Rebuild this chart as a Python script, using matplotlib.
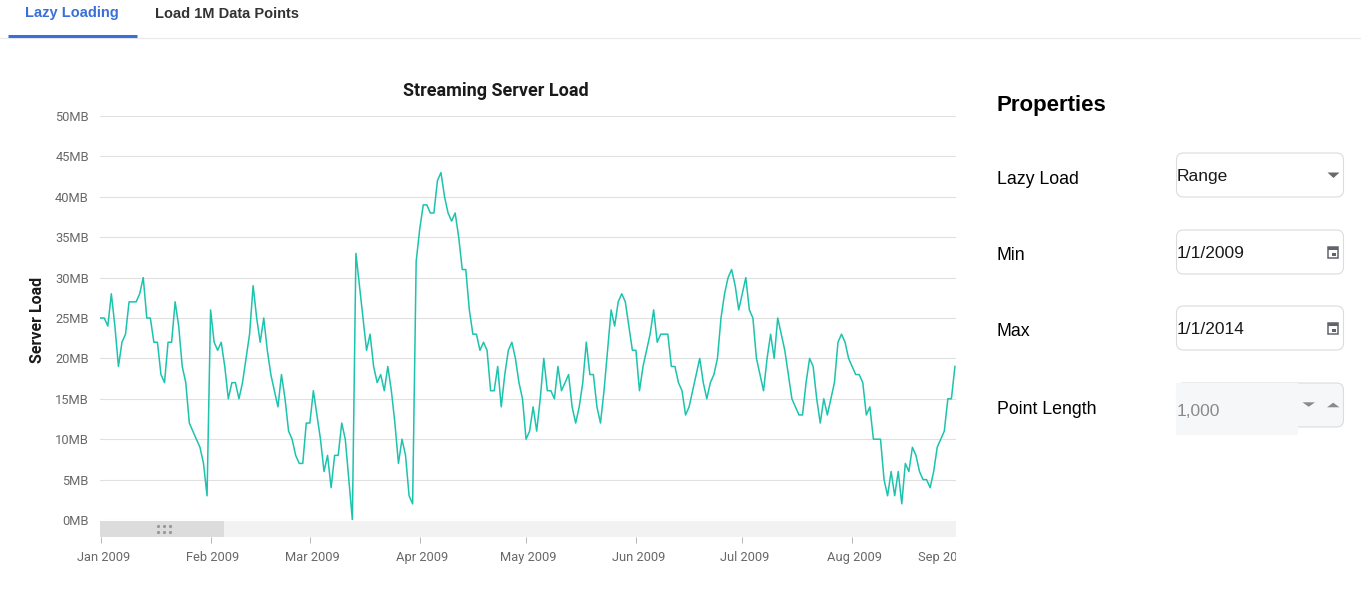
import numpy as np
import pandas as pd
import matplotlib
matplotlib.use('Agg')
import matplotlib.pyplot as plt
import matplotlib.dates as mdates
from matplotlib.patches import Rectangle, FancyBboxPatch, Polygon
from matplotlib.transforms import Bbox, TransformedBbox, ScaledTranslation

plt.rcParams['font.family'] = ['Roboto', 'DejaVu Sans']

# daily server load (MB), starting 1 Jan 2009
start_date = '2009-01-01'
server_load_mb = [
    25, 25, 24, 28, 24, 19, 22, 23, 27, 27,
    27, 28, 30, 25, 25, 22, 22, 18, 17, 22,
    22, 27, 24, 19, 17, 12, 11, 10, 9, 7,
    3, 26, 22, 21, 22, 19, 15, 17, 17, 15,
    17, 20, 23, 29, 25, 22, 25, 21, 18, 16,
    14, 18, 15, 11, 10, 8, 7, 7, 12, 12,
    16, 13, 10, 6, 8, 4, 8, 8, 12, 10,
    5, 0, 33, 29, 25, 21, 23, 19, 17, 18,
    16, 19, 16, 12, 7, 10, 8, 3, 2, 32,
    36, 39, 39, 38, 38, 42, 43, 40, 38, 37,
    38, 35, 31, 31, 26, 23, 23, 21, 22, 21,
    16, 16, 19, 14, 18, 21, 22, 20, 17, 15,
    10, 11, 14, 11, 15, 20, 16, 16, 15, 19,
    16, 17, 18, 14, 12, 14, 17, 22, 18, 18,
    14, 12, 16, 21, 26, 24, 27, 28, 27, 24,
    21, 21, 16, 19, 21, 23, 26, 22, 23, 23,
    23, 19, 19, 17, 16, 13, 14, 16, 18, 20,
    17, 15, 17, 18, 20, 25, 28, 30, 31, 29,
    26, 28, 30, 26, 25, 20, 18, 16, 20, 23,
    20, 25, 23, 21, 18, 15, 14, 13, 13, 17,
    20, 19, 15, 12, 15, 13, 15, 17, 22, 23,
    22, 20, 19, 18, 18, 17, 13, 14, 10, 10,
    10, 5, 3, 6, 3, 6, 2, 7, 6, 9,
    8, 6, 5, 5, 4, 6, 9, 10, 11, 15,
    15, 19,
]
y_ticks = [0, 5, 10, 15, 20, 25, 30, 35, 40, 45, 50]
view_days = 241.3  # visible window in days

dates = pd.date_range(start_date, periods=len(server_load_mb), freq='D')
x0 = pd.Timestamp(start_date) - pd.Timedelta(days=0.2)
x1 = pd.Timestamp(start_date) + pd.Timedelta(days=view_days)

W, H = 1361, 600
fig = plt.figure(figsize=(W / 100, H / 100), dpi=100)
fig.patch.set_facecolor('white')

# --- UI overlay in pixel coordinates ---
ui = fig.add_axes([0, 0, 1, 1], zorder=-1)
ui.set_xlim(0, W)
ui.set_ylim(H, 0)
ui.axis('off')

blue = '#3a6fd8'
ui.text(25, 13.5, 'Lazy Loading', fontsize=10.5, weight='bold', color=blue,
        va='center', family='Liberation Sans')
ui.text(155, 13.5, 'Load 1M Data Points', fontsize=10.5, weight='bold',
        color='#333333', va='center', family='Liberation Sans')
ui.plot([0, W], [38, 38], color='#e9e9e9', lw=0.9)
ui.plot([8, 137], [35.5, 35.5], color=blue, lw=2.2, solid_capstyle='butt')

ui.text(997, 105, 'Properties', fontsize=16, weight='bold', color='black',
        va='center', family='Liberation Sans')
labels = ['Lazy Load', 'Min', 'Max', 'Point Length']
values = ['Range', '1/1/2009', '1/1/2014', '1,000']
label_y = [180, 256, 332, 409]
box_top = [153, 230, 306, 383]
for lab, val, ly, bt in zip(labels, values, label_y, box_top):
    ui.text(997, ly, lab, fontsize=12.8, color='black', va='center',
            family='Liberation Sans')
    fill = '#f6f7f9' if lab == 'Point Length' else 'white'
    ui.add_patch(FancyBboxPatch((1176.5, bt), 167, 44,
                                boxstyle='round,pad=0,rounding_size=7',
                                fc=fill, ec='#dadce0', lw=0.8))
    if lab == 'Point Length':
        ui.add_patch(Rectangle((1176, bt - 0.5), 122, 52.5, fc=fill, ec='none'))
    tcol = '#8a8a8a' if lab == 'Point Length' else '#1a1a1a'
    ui.text(1177, bt + 24 + (4 if lab == 'Point Length' else 0), val,
            fontsize=12.5, color=tcol, va='center', family='Liberation Sans')

icon = '#60656b'
ui.add_patch(Polygon([(1327.5, 172.5), (1339.5, 172.5), (1333.5, 178)],
                     closed=True, fc='#6b6b6b', ec='none'))
for cy in [246.5, 323]:
    ui.add_patch(Rectangle((1328, cy), 10.5, 11, fc='none', ec=icon, lw=1.1))
    ui.add_patch(Rectangle((1328, cy), 10.5, 3, fc=icon, ec='none'))
    ui.add_patch(Rectangle((1332.5, cy + 6), 3.5, 3.2, fc=icon, ec='none'))
ui.add_patch(Polygon([(1302.5, 402.3), (1315, 402.3), (1308.7, 406.8)],
                     closed=True, fc='#8a8a8a', ec='none'))
ui.add_patch(Polygon([(1327, 407.3), (1339.5, 407.3), (1333.2, 402.7)],
                     closed=True, fc='#8a8a8a', ec='none'))

# --- main chart ---
ax = fig.add_axes([100 / W, 1 - 520 / H, 856 / W, 404 / H])
ax.plot(dates, server_load_mb, color='#1cc3ad', lw=1.1, zorder=3)
ax.set_xlim(x0, x1)
ax.set_ylim(0, 50)
ax.set_yticks(y_ticks)
ax.set_yticklabels([f'{v}MB' for v in y_ticks])
ax.grid(axis='y', color='#e0e0e0', lw=0.8)
ax.set_axisbelow(True)
for s in ax.spines.values():
    s.set_visible(False)
ax.tick_params(axis='x', bottom=False, labelbottom=False)
ax.tick_params(axis='y', length=0, pad=8, labelsize=9.3, labelcolor='#686868')

fig.text(496 / W, 1 - 91 / H, 'Streaming Server Load', ha='center', va='center',
         fontsize=13, weight='bold', color='#1a1a1a')
fig.text(38 / W, 1 - 320 / H, 'Server Load', ha='center', va='center',
         rotation=90, fontsize=11.5, weight='bold', color='#1a1a1a')

# --- range scrollbar with month axis ---
sb = fig.add_axes([100 / W, 1 - 537 / H, 856 / W, 16 / H], sharex=ax)
sb.set_facecolor('#f2f2f2')
for s in sb.spines.values():
    s.set_visible(False)
sb.set_yticks([])
sb.add_patch(Rectangle((0, 0), 124 / 856, 1, transform=sb.transAxes,
                       fc='#dcdcdc', ec='none'))
for gx in [57.7, 64, 70.3]:
    for gy in [0.69, 0.30]:
        sb.plot([gx / 856], [gy], 'o', ms=2.3, mew=0, color='#989898',
                transform=sb.transAxes, clip_on=False)
sb.xaxis.set_major_locator(mdates.MonthLocator())
sb.xaxis.set_major_formatter(mdates.DateFormatter('%b %Y'))
sb.tick_params(axis='x', direction='out', length=4.3, width=0.7, color='#b5b5b5',
               pad=5.6, labelsize=9.3, labelcolor='#686868')
sb.set_xlim(x0, x1)
shift = ScaledTranslation(2.5 / 100, 0, fig.dpi_scale_trans)
for lbl in sb.get_xticklabels():
    lbl.set_transform(lbl.get_transform() + shift)

# next month label sits at the right edge and is cut off like in the app
next_month = (dates[-1] + pd.offsets.MonthBegin(1)).normalize()
t = sb.text((918 - 100) / 856, -0.86, next_month.strftime('%b %Y'),
            transform=sb.transAxes, ha='left', va='top',
            fontsize=9.3, color='#686868')
t.set_clip_box(TransformedBbox(Bbox([[0, -10], [1, 1]]), sb.transAxes))
t.set_clip_on(True)

fig.savefig('out.png', dpi=100)
